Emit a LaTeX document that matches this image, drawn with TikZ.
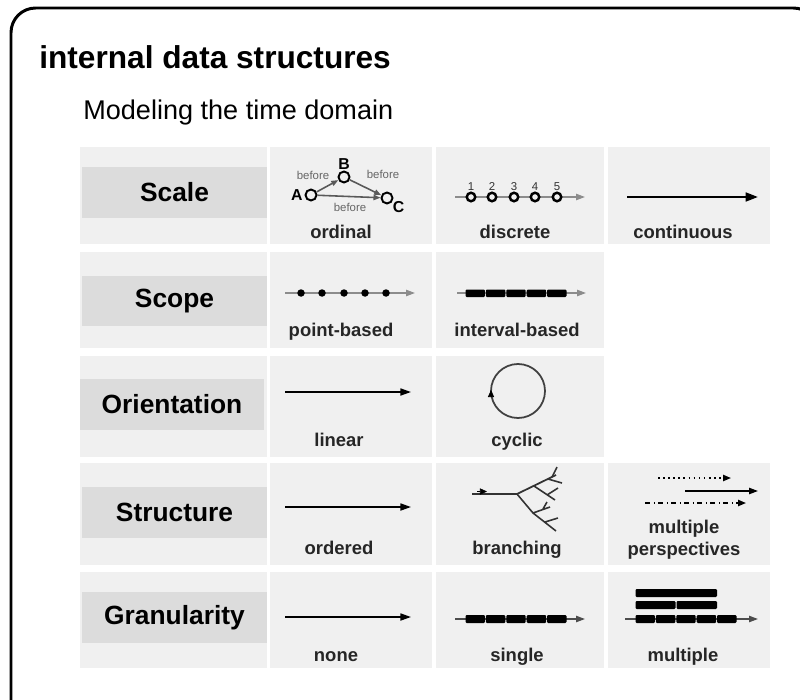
\documentclass[tikz,border=0pt]{standalone}
\usepackage{fontspec}
\setmainfont{Liberation Sans}
\usetikzlibrary{arrows.meta}

\definecolor{cellgray}{HTML}{F0F0F0}
\definecolor{boxgray}{HTML}{DCDCDC}
\definecolor{axisgray}{HTML}{8C8C8C}

\begin{document}
\begin{tikzpicture}[x=0.02cm,y=-0.02cm,
    rowlabel/.style={fill=boxgray,minimum width=3.7cm,minimum height=1.02cm,inner sep=0pt,
      font=\bfseries\fontsize{15}{17}\selectfont},
    caption/.style={font=\bfseries\fontsize{10.5}{12.5}\selectfont,text=black!85,align=center,
      inner sep=0pt,anchor=base},
    ring/.style={circle,draw,line width=1.1pt,inner sep=0pt,minimum size=0.22cm},
    dot/.style={circle,fill,inner sep=0pt,minimum size=0.15cm},
    axis/.style={draw=axisgray,line width=0.8pt,-{Triangle[length=5pt,width=3.5pt]}},
    timearrow/.style={line width=0.9pt,-{Triangle[length=6pt,width=4pt]}},
    tiny/.style={font=\fontsize{6.5}{7}\selectfont,text=black!60,inner sep=1pt}]
  \clip (0,0) rectangle (800,699);
  \useasboundingbox (0,0) rectangle (800,699);
  \draw[line width=1.7pt,rounded corners=14pt] (11,8) rectangle (818,730);

  \node[anchor=base west,inner sep=0pt,font=\bfseries\fontsize{18}{20}\selectfont] (title) at (39,69) {internal data structures};
  \node[anchor=base west,inner sep=0pt,font=\fontsize{15.4}{18}\selectfont] (subtitle) at (83,120) {Modeling the time domain};

  % table cells
  \foreach \xa/\xb/\ya/\yb in {80/267/147/244, 270/432/147/244, 436/604/147/244, 608/770/147/244,
      80/267/252/348, 270/432/252/348, 436/604/252/348,
      80/267/356/457, 270/432/356/457, 436/604/356/457,
      80/267/463/565, 270/432/463/565, 436/604/463/565, 608/770/463/565,
      80/267/572/668, 270/432/572/668, 436/604/572/668, 608/770/572/668}
    \fill[cellgray] (\xa,\ya) rectangle (\xb,\yb);

  \node[rowlabel] (scale) at (174.5,192.5) {Scale};
  \node[rowlabel] (scope) at (174.5,301) {Scope};
  \node[rowlabel] (orientation) at (172,404) {Orientation};
  \node[rowlabel] (structure) at (174.5,512.5) {Structure};
  \node[rowlabel] (granularity) at (174.5,617.5) {Granularity};

  % scale
  \node[ring,label={[font=\bfseries\fontsize{9}{10}\selectfont,inner sep=1pt]left:A}] (A) at (311,195) {};
  \node[ring,label={[font=\bfseries\fontsize{9}{10}\selectfont,inner sep=0.5pt]above:B}] (B) at (344,177) {};
  \node[ring,label={[font=\bfseries\fontsize{9}{10}\selectfont,inner sep=0pt]-30:C}] (C) at (387,198) {};
  \draw[draw=black!65,line width=0.9pt,-{Triangle[length=4pt,width=3pt]}] (A) -- (B);
  \draw[draw=black!65,line width=0.9pt,-{Triangle[length=4pt,width=3pt]}] (B) -- (C);
  \draw[draw=black!65,line width=0.9pt,-{Triangle[length=4pt,width=3pt]}] (A) -- (C);
  \node[tiny] (ab) at (313,175) {before};
  \node[tiny] (bc) at (383,174) {before};
  \node[tiny] (ac) at (350,207) {before};
  \node[caption] (ordinal) at (341,238) {ordinal};

  \coordinate (d0) at (455,197);
  \coordinate (d6) at (585,197);
  \draw[axis] (d0) -- (d6);
  \foreach \i/\x in {1/471,2/492,3/514,4/535,5/557}
    \node[ring,fill=cellgray,line width=1.4pt,minimum size=0.17cm,
      label={[tiny,text=black!80,inner sep=0.5pt]above:\i}] (d\i) at (\x,197) {};
  \node[caption] (discrete) at (515,238) {discrete};

  \coordinate (c0) at (627,197);
  \coordinate (c1) at (758,197);
  \draw[line width=1.3pt,-{Triangle[length=7pt,width=5pt]}] (c0) -- (c1);
  \node[caption] (continuous) at (683,238) {continuous};

  % scope
  \coordinate (p0) at (285,293);
  \coordinate (p6) at (415,293);
  \draw[axis] (p0) -- (p6);
  \foreach \i/\x in {1/301,2/322,3/344,4/365,5/386}
    \node[dot] (p\i) at (\x,293) {};
  \node[caption] (pointbased) at (341,336) {point-based};

  \coordinate (i0) at (457,293);
  \coordinate (i6) at (586,293);
  \draw[axis] (i0) -- (i6);
  \foreach \k in {0,...,4}
    \fill[rounded corners=0.6pt] ({465.5+20.4*\k},289.5) rectangle +(19.4,7.5);
  \node[caption] (intervalbased) at (517,336) {interval-based};

  % orientation
  \coordinate (l0) at (285,392);
  \coordinate (l1) at (411,392);
  \draw[timearrow] (l0) -- (l1);
  \node[caption] (linear) at (339,446) {linear};

  \coordinate (o) at (518,391);
  \draw[black!75,line width=1pt] (o) circle (27);
  \draw[-{Triangle[length=4pt,width=3.5pt]}] (491,396) -- (491,390);
  \node[caption] (cyclic) at (517,446) {cyclic};

  % structure
  \coordinate (s0) at (285,507);
  \coordinate (s1) at (411,507);
  \draw[timearrow] (s0) -- (s1);
  \node[caption] (ordered) at (339,554) {ordered};

  \coordinate (b0) at (472,494);
  \coordinate (bj) at (517,494);
  \draw[black!80,line width=1pt] (b0) -- (bj) -- (556,475);
  \draw[-{Triangle[length=4pt,width=3.5pt]}] (477,491.5) -- (487,491.5);
  \draw[black!80,line width=0.9pt] (534,486) -- (555,500)
    (547,495) -- (558,488) (552,477) -- (557,467) (548,479) -- (562,483)
    (bj) -- (533,513) -- (556,531) (533,513) -- (550,507)
    (543,509) -- (547,502) (545,522) -- (558,518);
  \node[caption] (branching) at (517,554) {branching};

  \draw[dotted,line width=0.9pt,-{Triangle[length=4.5pt,width=3.5pt]}] (658,478) -- (731,478);
  \draw[line width=0.9pt,-{Triangle[length=5pt,width=3.5pt]}] (685,491) -- (758,491);
  \draw[dash dot,line width=0.9pt,-{Triangle[length=4.5pt,width=3.5pt]}] (645,503) -- (746,503);
  \node[caption] (perspectives) at (684,555) {multiple\\perspectives};

  % granularity
  \coordinate (g0) at (285,617);
  \coordinate (g1) at (411,617);
  \draw[timearrow] (g0) -- (g1);
  \node[caption] (none) at (336,661) {none};

  \coordinate (n0) at (455,619);
  \coordinate (n6) at (585,619);
  \draw[axis,draw=black!70] (n0) -- (n6);
  \foreach \k in {0,...,4}
    \fill[rounded corners=0.6pt] ({465.5+20.4*\k},615) rectangle +(19.4,8);
  \node[caption] (single) at (517,661) {single};

  \coordinate (m0) at (625,619);
  \coordinate (m6) at (758,619);
  \draw[axis,draw=black!70] (m0) -- (m6);
  \foreach \k in {0,...,4}
    \fill[rounded corners=0.6pt] ({635.5+20.4*\k},615) rectangle +(19.4,8);
  \fill[rounded corners=0.6pt] (635.5,601) rectangle (675.5,609);
  \fill[rounded corners=0.6pt] (676.5,601) rectangle (717,609);
  \fill[rounded corners=0.6pt] (635.5,589) rectangle (717,597);
  \node[caption] (multiple) at (683,661) {multiple};
\end{tikzpicture}
\end{document}
